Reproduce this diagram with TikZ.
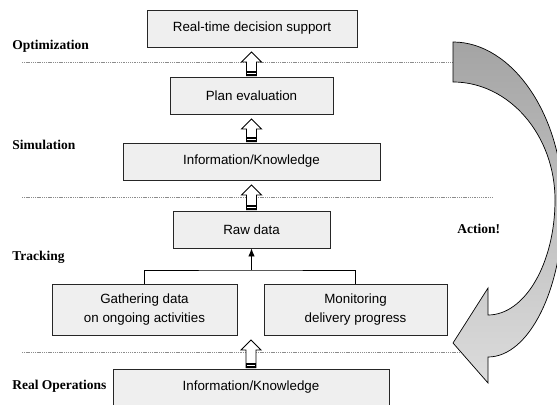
\documentclass[tikz,border=0pt]{standalone}
\usepackage{fontspec}
\setmainfont{Liberation Sans}
\newfontfamily\layerfont{Liberation Serif}
\usepackage{tikz}
\usetikzlibrary{arrows.meta, calc}
\definecolor{boxgray}{HTML}{EFEFEF}
\definecolor{turndark}{HTML}{A4A4A4}
\definecolor{turnlight}{HTML}{DCDCDC}
% hollow block arrow: #1 lower box, #2 upper box
\newcommand{\flowup}[2]{%
    \draw[hollow] let \p1=(#1.north), \p2=(#2.south) in
        (\x1-3.6pt,\y1+0.7pt) -- (\x1-3.6pt,\y2-10.4pt) -- (\x1-7.1pt,\y2-10.4pt)
        -- (\x1,\y2-3.3pt) -- (\x1+7.1pt,\y2-10.4pt) -- (\x1+3.6pt,\y2-10.4pt)
        -- (\x1+3.6pt,\y1+0.7pt) -- cycle;
    \fill let \p1=(#1.north) in (\x1-3.6pt,\y1+0.7pt) rectangle (\x1+3.6pt,\y1+3.8pt);
    \draw[white, line width=0.5pt] let \p1=(#1.north) in (\x1-2.9pt,\y1+2.4pt) -- (\x1+2.9pt,\y1+2.4pt);
}

\begin{document}
\begin{tikzpicture}[x=0.025cm, y=-0.025cm,
    box/.style={draw=black!85, line width=0.6pt, fill=boxgray, minimum height=0.925cm,
        inner sep=0pt, align=center, font=\fontsize{9.5}{14}\selectfont},
    layer/.style={anchor=base west, inner sep=0pt, font=\layerfont\bfseries\fontsize{9.6}{11}\selectfont},
    hollow/.style={draw=black, line width=0.6pt, fill=white},
    divider/.style={draw=black!45, line width=0.5pt, dash pattern=on 0.8pt off 0.5pt}]
    \useasboundingbox (0,0) rectangle (557,405);
    \clip (0,0) rectangle (557,405);

    % layer dividers
    \draw[divider] (22,62.5) -- (453,62.5);
    \draw[divider] (22,197.5) -- (492,197.5);
    \draw[divider] (22,352) -- (462,352);

    % turning arrow
    \shade[top color=turndark, bottom color=turnlight, draw=black, line width=0.5pt]
        (453,42) .. controls (512,42) and (563,115) .. (563,205)
        .. controls (563,289) and (529,357) .. (488,357)
        -- (488,383) -- (453,343) -- (488,288) -- (488,315)
        .. controls (525,315) and (555,263) .. (555,200)
        .. controls (555,135) and (509,82) .. (453,82) -- cycle;

    \node[box, minimum width=5.25cm] (support) at (252,28.5) {Real-time decision support};
    \node[box, minimum width=4.075cm] (plan) at (251.5,95.5) {Plan evaluation};
    \node[box, minimum width=6.425cm] (simknow) at (251.5,161.5) {Information/Knowledge};
    \node[box, minimum width=3.925cm] (raw) at (251.5,229.5) {Raw data};
    \node[box, minimum width=4.625cm, minimum height=1.275cm] (gather) at (144.5,309.5) {Gathering data\\on ongoing activities};
    \node[box, minimum width=4.575cm, minimum height=1.275cm] (monitor) at (355.5,309.5) {Monitoring\\delivery progress};
    \node[box, minimum width=6.9cm] (realknow) at (251,387.5) {Information/Knowledge};

    \node[layer] (optim) at (12,50) {Optimization};
    \node[layer] (simul) at (12,150) {Simulation};
    \node[layer] (track) at (12,261) {Tracking};
    \node[layer] (realop) at (12,389) {Real Operations};
    \node[layer] (action) at (457,234) {Action!};

    \coordinate (fork) at (251.5,270);
    \draw[line width=0.6pt] (gather.north) |- (fork) -| (monitor.north);
    \draw[line width=0.6pt, -{Latex[length=5.7pt,width=4.6pt]}] (fork) -- (raw.south);

    \flowup{plan}{support}
    \flowup{simknow}{plan}
    \flowup{raw}{simknow}
    \flowup{realknow}{gather}
    %\flowup{realknow}{monitor}
\end{tikzpicture}
\end{document}
